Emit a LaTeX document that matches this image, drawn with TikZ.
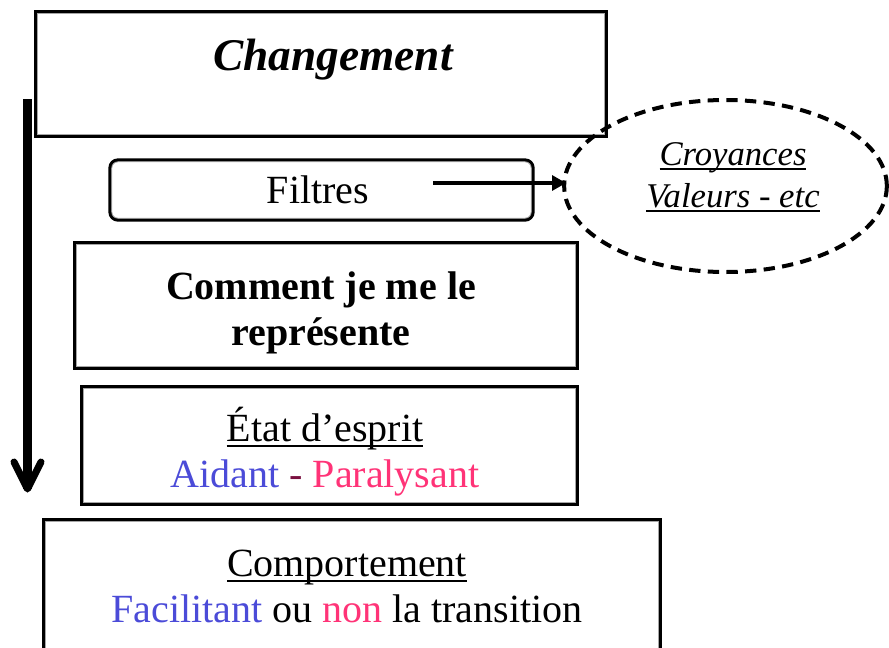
\documentclass[tikz,border=0pt]{standalone}
\usepackage{fontspec}
\setmainfont{Liberation Serif}
\usetikzlibrary{arrows.meta,calc,shapes.geometric}
\definecolor{ublue}{HTML}{4B4BD8}
\definecolor{upink}{HTML}{FF3377}
\definecolor{umaroon}{HTML}{7A1040}
\newlength\myulw
\newcommand\myul[1]{\settowidth{\myulw}{#1}\makebox[0pt][l]{\rule[-0.13em]{\myulw}{0.055em}}#1}
\tikzset{
  frame/.style={draw, line width=2.5pt, inner sep=0pt},
  innerline/.style={draw=gray!70, line width=0.6pt},
  txt/.style={inner sep=0pt, anchor=base, align=center},
  body/.style={font=\fontsize{30pt}{34pt}\selectfont},
}
\begin{document}
\begin{tikzpicture}[x=0.75pt,y=-0.75pt]
\useasboundingbox (0,0) rectangle (889,647);
% Changement
\node[frame, minimum width=427.5pt, minimum height=93pt] (chg) at (321,74) {};
\draw[innerline] ($(chg.south west)+(3.5,-3.5)$) rectangle ($(chg.north east)+(-3.5,3.5)$);
\node[txt, font=\fontsize{34pt}{38pt}\selectfont\bfseries\itshape] (chgt) at (333,70) {Changement};
% Filtres
\node[frame, rounded corners=6pt, minimum width=317.25pt, minimum height=45pt] (fil) at (321.5,190) {};
\draw[innerline, rounded corners=4.5pt] ($(fil.south west)+(3.5,-3.5)$) rectangle ($(fil.north east)+(-3.5,3.5)$);
\node[txt, body] (filt) at (318,203) {Filtres};
% Ellipse
\node[ellipse, draw, dash pattern=on 8.5pt off 5.5pt, line width=3pt, minimum width=242pt, minimum height=129pt, inner sep=0pt] (ell) at (725.5,186) {};
\node[txt, font=\fontsize{26pt}{31.5pt}\selectfont\itshape] (ellt) at (733,207) {\myul{Croyances}\\\myul{Valeurs - etc}};
% Filtres arrow
\coordinate (fa) at (433,183);
\draw[line width=3.3pt, -{Triangle[length=10.5pt,width=11pt]}] (fa) -- ($(ell.west |- fa)+(4,0)$);
% Comment
\node[frame, minimum width=376.5pt, minimum height=93.75pt] (cmt) at (326,305.5) {};
\draw[innerline] ($(cmt.south west)+(3.5,-3.5)$) rectangle ($(cmt.north east)+(-3.5,3.5)$);
\node[txt, font=\fontsize{30pt}{34pt}\selectfont\bfseries] (cmtt) at (321,345) {Comment je me le\\représente};
% Etat
\node[frame, minimum width=371.25pt, minimum height=87.75pt] (eta) at (329.5,445.5) {};
\draw[innerline] ($(eta.south west)+(3.5,-3.5)$) rectangle ($(eta.north east)+(-3.5,3.5)$);
\node[txt, body] (etat) at (325,487) {\myul{État d’esprit}\\\textcolor{ublue}{Aidant} \textcolor{umaroon}{-} \textcolor{upink}{Paralysant}};
% Comportement
\node[frame, minimum width=462pt, minimum height=135pt] (cpt) at (352,610) {};
\draw[innerline] ($(cpt.south west)+(3.5,-3.5)$) rectangle ($(cpt.north east)+(-3.5,3.5)$);
\node[txt, body] (cptt) at (347,622) {\myul{Comportement}\\\textcolor{ublue}{Facilitant} ou \textcolor{upink}{non} la transition};
% Vertical arrow
\coordinate (va1) at (27.5,99);
\coordinate (va2) at (27.5,489);
\coordinate (vw1) at (14,462);
\coordinate (vw2) at (41,462);
\draw[line width=6.75pt] (va1) -- (va2);
\draw[line width=5.25pt, line cap=round, line join=round] (vw1) -- (va2) -- (vw2);
\end{tikzpicture}
\end{document}
